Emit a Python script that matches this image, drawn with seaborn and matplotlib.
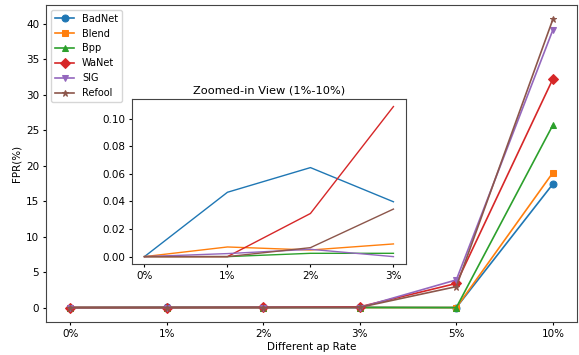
import matplotlib
matplotlib.use("Agg")
import matplotlib.pyplot as plt
import seaborn as sns

# Dados
rates = ["0%", "1%", "2%", "3%", "5%", "10%"]
badnet = [0, 0.0467, 0.0646, 0.0398, 0, 17.4]
blend = [0, 0.0070, 0.0048, 0.0092, 0, 19.0]
bpp = [0, 0.0, 0.0024, 0.0024, 0, 25.7]
wanet = [0, 0.0, 0.0313, 0.1089, 3.4, 32.2]
sig = [0, 0.0022, 0.0053, 0.0, 3.9, 39.1]
refool = [0, 0.0, 0.0065, 0.0345, 2.95, 40.6]

series = [("BadNet", badnet, "o"), ("Blend", blend, "s"), ("Bpp", bpp, "^"),
          ("WaNet", wanet, "D"), ("SIG", sig, "v"), ("Refool", refool, "*")]
cores = sns.color_palette("tab10", 6)
pos = list(range(len(rates)))

plt.rcParams["xtick.major.size"] = 2.5
plt.rcParams["ytick.major.size"] = 2.5
plt.rcParams["xtick.major.pad"] = 2.5
plt.rcParams["ytick.major.pad"] = 2.5
plt.rcParams["axes.edgecolor"] = "#444444"

fig = plt.figure(figsize=(5.79, 3.55), dpi=100)
ax = fig.add_axes([0.0795, 0.093, 0.917, 0.893])

for (nome, vals, mk), c in zip(series, cores):
    sns.lineplot(x=pos, y=vals, ax=ax, color=c, marker=mk, markersize=5,
                 markeredgecolor=c, linewidth=1.2, label=nome)

ax.set_xticks(pos)
ax.set_xticklabels(rates, fontsize=7.5)
ax.tick_params(axis="y", labelsize=7.5)
ax.set_xlabel("Different ap Rate", fontsize=7.5, labelpad=2)
ax.set_ylabel("FPR(%)", fontsize=7.5, labelpad=3)
ax.legend(loc="upper left", fontsize=7)

# Inset com o zoom de 0% a 3%
axins = fig.add_axes([0.228, 0.256, 0.473, 0.465])
for (nome, vals, mk), c in zip(series, cores):
    sns.lineplot(x=pos[:4], y=vals[:4], ax=axins, color=c, linewidth=1.0)
axins.set_xticks(pos[:4])
axins.set_xticklabels(rates[:4], fontsize=7.5)
axins.tick_params(axis="y", labelsize=7.5)
axins.set_title("Zoomed-in View (1%-10%)", fontsize=8.2, pad=4)

plt.savefig("out.png", dpi=100)
